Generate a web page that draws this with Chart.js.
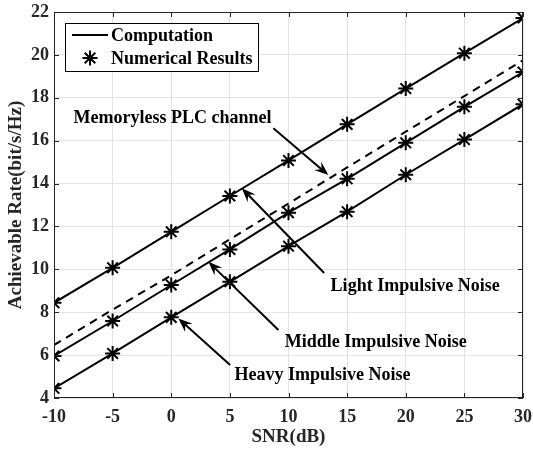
<!DOCTYPE html>
<html>
<head>
<meta charset="utf-8">
<script src="https://cdn.jsdelivr.net/npm/chart.js@4.4.1/dist/chart.umd.min.js"></script>
<style>
  html, body { margin: 0; padding: 0; background: #fff; }
  #wrap { width: 533px; height: 451px; }
</style>
</head>
<body>
<div id="wrap"><canvas id="rateChart" width="533" height="451"></canvas></div>
<script>
// SNR axis (dB)
const snr = [-10, -5, 0, 5, 10, 15, 20, 25, 30];

// Achievable rate (bit/s/Hz)
const lightNoise  = [8.44, 10.07, 11.75, 13.42, 15.08, 16.76, 18.43, 20.08, 21.72];
const memoryless  = [6.47, 8.12, 9.72, 11.4, 13.07, 14.75, 16.42, 18.08, 19.75];
const middleNoise = [5.96, 7.59, 9.27, 10.93, 12.64, 14.22, 15.9, 17.58, 19.2];
const heavyNoise  = [4.45, 6.08, 7.76, 9.42, 11.08, 12.69, 14.41, 16.05, 17.7];

const xTicks = [-10, -5, 0, 5, 10, 15, 20, 25, 30];
const yTicks = [4, 6, 8, 10, 12, 14, 16, 18, 20, 22];

// annotation text + arrows, in data units: [text, textX, textY, fromX, fromY, tipX, tipY]
const notes = [
  ['Memoryless PLC channel', 0.1, 17.06, 8.71, 16.58, 13.4, 14.4],
  ['Light Impulsive Noise', 20.8, 9.2, 13.04, 9.83, 6.02, 13.78],
  ['Middle Impulsive Noise', 17.45, 6.6, 9.14, 7.17, 3.17, 10.35],
  ['Heavy Impulsive Noise', 12.9, 5.06, 5.02, 5.54, 0.61, 7.71]
];

const serif = "'Liberation Serif', 'Times New Roman', serif";
const axisColor = '#262626';

function pairs(ys) {
  return snr.map((x, i) => ({ x: x, y: ys[i] }));
}

function drawArrow(ctx, x0, y0, x1, y1) {
  const ang = Math.atan2(y1 - y0, x1 - x0);
  const len = 14, half = 5.5, notch = 9;
  ctx.beginPath();
  ctx.moveTo(x0, y0);
  ctx.lineTo(x1 - Math.cos(ang) * notch, y1 - Math.sin(ang) * notch);
  ctx.stroke();
  ctx.save();
  ctx.translate(x1, y1);
  ctx.rotate(ang);
  ctx.beginPath();
  ctx.moveTo(0, 0);
  ctx.lineTo(-len, -half);
  ctx.lineTo(-notch, 0);
  ctx.lineTo(-len, half);
  ctx.closePath();
  ctx.fill();
  ctx.restore();
}

// box, inner ticks, legend and annotations
const decorPlugin = {
  id: 'decor',
  afterDatasetsDraw(chart) {
    const ctx = chart.ctx;
    const a = chart.chartArea;
    const xs = chart.scales.x, ys = chart.scales.y;
    ctx.save();

    // axes box with inward ticks
    ctx.strokeStyle = axisColor;
    ctx.lineWidth = 1;
    ctx.strokeRect(a.left + 0.5, a.top + 0.5, a.right - a.left - 1, a.bottom - a.top - 1);
    ctx.beginPath();
    xTicks.forEach(t => {
      const px = Math.round(xs.getPixelForValue(t)) + 0.5;
      ctx.moveTo(px, a.bottom); ctx.lineTo(px, a.bottom - 5);
      ctx.moveTo(px, a.top); ctx.lineTo(px, a.top + 5);
    });
    yTicks.forEach(t => {
      const py = Math.round(ys.getPixelForValue(t)) + 0.5;
      ctx.moveTo(a.left, py); ctx.lineTo(a.left + 5, py);
      ctx.moveTo(a.right, py); ctx.lineTo(a.right - 5, py);
    });
    ctx.stroke();

    // annotations
    ctx.strokeStyle = '#000';
    ctx.fillStyle = '#000';
    ctx.lineWidth = 2;
    ctx.font = 'bold 18px ' + serif;
    ctx.textAlign = 'center';
    ctx.textBaseline = 'middle';
    notes.forEach(n => {
      ctx.fillText(n[0], xs.getPixelForValue(n[1]), ys.getPixelForValue(n[2]));
      drawArrow(ctx,
        xs.getPixelForValue(n[3]), ys.getPixelForValue(n[4]),
        xs.getPixelForValue(n[5]), ys.getPixelForValue(n[6]));
    });

    // legend
    const lx = 65, ly = 23, lw = 193, lh = 48;
    ctx.fillStyle = '#fff';
    ctx.fillRect(lx, ly, lw, lh);
    ctx.strokeStyle = '#000';
    ctx.lineWidth = 1;
    ctx.strokeRect(lx + 0.5, ly + 0.5, lw, lh);
    ctx.lineWidth = 2;
    ctx.beginPath();
    ctx.moveTo(lx + 7, ly + 12);
    ctx.lineTo(lx + 43, ly + 12);
    ctx.stroke();
    Chart.helpers.drawPoint(ctx, { pointStyle: 'star', radius: 7.5, borderWidth: 2 }, lx + 25, ly + 35);
    ctx.fillStyle = '#000';
    ctx.textAlign = 'left';
    ctx.fillText('Computation', lx + 46, ly + 13);
    ctx.fillText('Numerical Results', lx + 46, ly + 36);
    ctx.restore();
  }
};

function solidSet(label, ys) {
  return {
    label: label,
    data: pairs(ys),
    borderColor: '#000',
    backgroundColor: '#000',
    borderWidth: 2,
    pointStyle: 'star',
    pointRadius: 7.5,
    pointBorderWidth: 2,
    pointBorderColor: '#000'
  };
}

const ctx = document.getElementById('rateChart');
new Chart(ctx, {
  type: 'line',
  data: {
    datasets: [
      solidSet('Light Impulsive Noise', lightNoise),
      {
        label: 'Memoryless PLC channel',
        data: pairs(memoryless),
        borderColor: '#000',
        borderWidth: 2,
        borderDash: [8, 6],
        pointRadius: 0
      },
      solidSet('Middle Impulsive Noise', middleNoise),
      solidSet('Heavy Impulsive Noise', heavyNoise)
    ]
  },
  options: {
    responsive: false,
    animation: false,
    devicePixelRatio: 1,
    layout: { padding: { left: 0, right: 10, top: 12, bottom: 0 } },
    plugins: { legend: { display: false }, tooltip: { enabled: false } },
    scales: {
      x: {
        type: 'linear',
        min: -10, max: 30,
        afterBuildTicks: s => { s.ticks = xTicks.map(v => ({ value: v })); },
        afterFit: s => { s.height = 53; s.paddingLeft = 0; s.paddingRight = 0; },
        grid: { color: '#e3e3e3', drawTicks: false },
        border: { display: false },
        ticks: { color: axisColor, padding: 9, font: { family: serif, size: 18, weight: 'bold' } },
        title: { display: true, text: 'SNR(dB)', color: axisColor, padding: { bottom: 3 },
                 font: { family: serif, size: 19, weight: 'bold' } }
      },
      y: {
        min: 4, max: 22,
        afterBuildTicks: s => { s.ticks = yTicks.map(v => ({ value: v })); },
        afterFit: s => { s.width = 54; s.paddingTop = 0; s.paddingBottom = 0; },
        grid: { color: '#e3e3e3', drawTicks: false },
        border: { display: false },
        ticks: { color: axisColor, padding: 5, font: { family: serif, size: 18, weight: 'bold' } },
        title: { display: true, text: 'Achievable Rate(bit/s/Hz)', color: axisColor, padding: { top: 5 },
                 font: { family: serif, size: 19, weight: 'bold' } }
      }
    }
  },
  plugins: [decorPlugin]
});
</script>
</body>
</html>
